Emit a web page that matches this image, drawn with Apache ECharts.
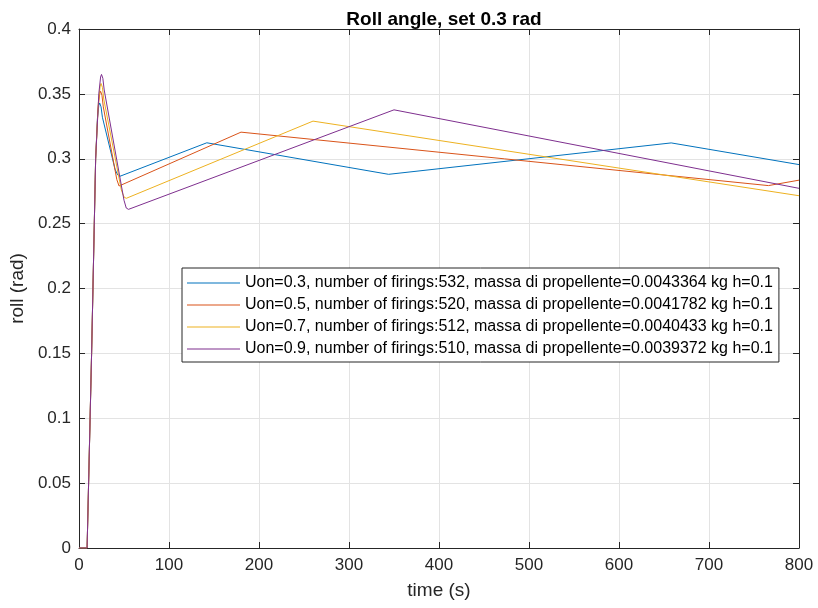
<!DOCTYPE html>
<html lang="en">
  <head>
    <meta charset="UTF-8" />
    <title>Roll angle, set 0.3 rad</title>
    <script src="https://cdn.jsdelivr.net/npm/echarts@6/dist/echarts.min.js"></script>
    <style>
      html, body { margin: 0; padding: 0; background: #fff; }
    </style>
  </head>
  <body>
    <div id="main" style="width: 818px; height: 608px;"></div>
    <script type="text/javascript">
      // values: [time (s), roll (rad)]
      var seriesNames = [
        "Uon=0.3, number of firings:532, massa di propellente=0.0043364 kg h=0.1",
        "Uon=0.5, number of firings:520, massa di propellente=0.0041782 kg h=0.1",
        "Uon=0.7, number of firings:512, massa di propellente=0.0040433 kg h=0.1",
        "Uon=0.9, number of firings:510, massa di propellente=0.0039372 kg h=0.1"
      ];
      var colors = ["#0072BD", "#D95319", "#EDB120", "#7E2F8E"];

      var rollU03 = [
        [0, 0], [9, 0], [14, 0.15], [18.5, 0.3], [20.5, 0.331], [22, 0.341], [23, 0.343],
        [24.5, 0.34], [26, 0.332], [40, 0.292], [43, 0.2875], [45.5, 0.2865],
        [142, 0.3123], [344, 0.288], [658, 0.3122], [800, 0.2955]
      ];
      var rollU05 = [
        [0, 0], [9, 0], [14, 0.15], [18.5, 0.3], [21, 0.338], [23, 0.35], [24, 0.352],
        [25.5, 0.349], [27, 0.34], [42, 0.284], [44.5, 0.279], [46.5, 0.2785],
        [180, 0.3205], [766, 0.2793], [800, 0.2835]
      ];
      var rollU07 = [
        [0, 0], [9, 0], [14, 0.15], [18.5, 0.3], [21.5, 0.343], [23.5, 0.356], [24.5, 0.358],
        [26, 0.355], [27.5, 0.346], [47, 0.276], [50, 0.2705], [52.5, 0.2695],
        [260, 0.329], [800, 0.2715]
      ];
      var rollU09 = [
        [0, 0], [9, 0], [14, 0.15], [18.5, 0.3], [22, 0.35], [24, 0.363], [25, 0.365],
        [26.5, 0.362], [28, 0.353], [50, 0.268], [52.5, 0.262], [55, 0.261],
        [350, 0.3377], [800, 0.2772]
      ];
      var seriesData = [rollU03, rollU05, rollU07, rollU09];

      var xTicks = [0, 100, 200, 300, 400, 500, 600, 700, 800];
      var yTicks = [0, 0.05, 0.1, 0.15, 0.2, 0.25, 0.3, 0.35, 0.4];

      var font = "Liberation Sans, Arial, sans-serif";
      var ink = "#262626";
      var gridColor = "#e3e3e3";

      var myChart = echarts.init(document.getElementById("main"));

      var series = seriesData.map(function (d, i) {
        return {
          name: seriesNames[i],
          type: "line",
          data: d,
          symbol: "none",
          lineStyle: { color: colors[i], width: 1 },
          itemStyle: { color: colors[i] }
        };
      });

      // plain line as legend sample (no marker)
      var legendLine = "path://M0,0H53V1H0Z";

      var option = {
        backgroundColor: "#fff",
        title: {
          text: "Roll angle, set 0.3 rad",
          left: 439,
          textAlign: "center",
          top: 5,
          textStyle: { fontFamily: font, fontSize: 19, fontWeight: "bold", color: "#000" }
        },
        grid: { left: 79, right: 19, top: 29, bottom: 60 },
        legend: {
          orient: "vertical",
          left: 182,
          top: 268,
          padding: [7, 6, 5, 5],
          icon: legendLine,
          itemWidth: 53,
          itemHeight: 16,
          itemGap: 6,
          backgroundColor: "#fff",
          borderColor: ink,
          borderWidth: 1,
          borderRadius: 0,
          textStyle: { fontFamily: font, fontSize: 16, color: "#000" },
          data: seriesNames
        },
        xAxis: [
          {
            type: "value",
            min: xTicks[0],
            max: xTicks[xTicks.length - 1],
            interval: 100,
            name: "time (s)",
            nameLocation: "middle",
            nameGap: 33,
            nameTextStyle: { fontFamily: font, fontSize: 19, color: ink },
            axisLine: { onZero: false, lineStyle: { color: ink, width: 1 } },
            axisTick: { inside: true, length: 6, lineStyle: { color: ink } },
            axisLabel: { fontFamily: font, fontSize: 17, color: ink, margin: 9 },
            splitLine: { show: true, lineStyle: { color: gridColor, width: 1 } }
          },
          {
            type: "value",
            position: "top",
            min: xTicks[0],
            max: xTicks[xTicks.length - 1],
            interval: 100,
            axisLine: { onZero: false, lineStyle: { color: ink, width: 1 } },
            axisTick: { inside: true, length: 6, lineStyle: { color: ink } },
            axisLabel: { show: false },
            splitLine: { show: false }
          }
        ],
        yAxis: [
          {
            type: "value",
            min: yTicks[0],
            max: yTicks[yTicks.length - 1],
            interval: 0.05,
            name: "roll (rad)",
            nameLocation: "middle",
            nameGap: 50,
            nameTextStyle: { fontFamily: font, fontSize: 19, color: ink },
            axisLine: { onZero: false, lineStyle: { color: ink, width: 1 } },
            axisTick: { inside: true, length: 6, lineStyle: { color: ink } },
            axisLabel: {
              fontFamily: font, fontSize: 17, color: ink, margin: 8,
              formatter: function (v) { return String(Math.round(v * 100) / 100); }
            },
            splitLine: { show: true, lineStyle: { color: gridColor, width: 1 } }
          },
          {
            type: "value",
            position: "right",
            min: yTicks[0],
            max: yTicks[yTicks.length - 1],
            interval: 0.05,
            axisLine: { onZero: false, lineStyle: { color: ink, width: 1 } },
            axisTick: { inside: true, length: 6, lineStyle: { color: ink } },
            axisLabel: { show: false },
            splitLine: { show: false }
          }
        ],
        series: series,
        animation: false
      };

      myChart.setOption(option);
    </script>
  </body>
</html>
